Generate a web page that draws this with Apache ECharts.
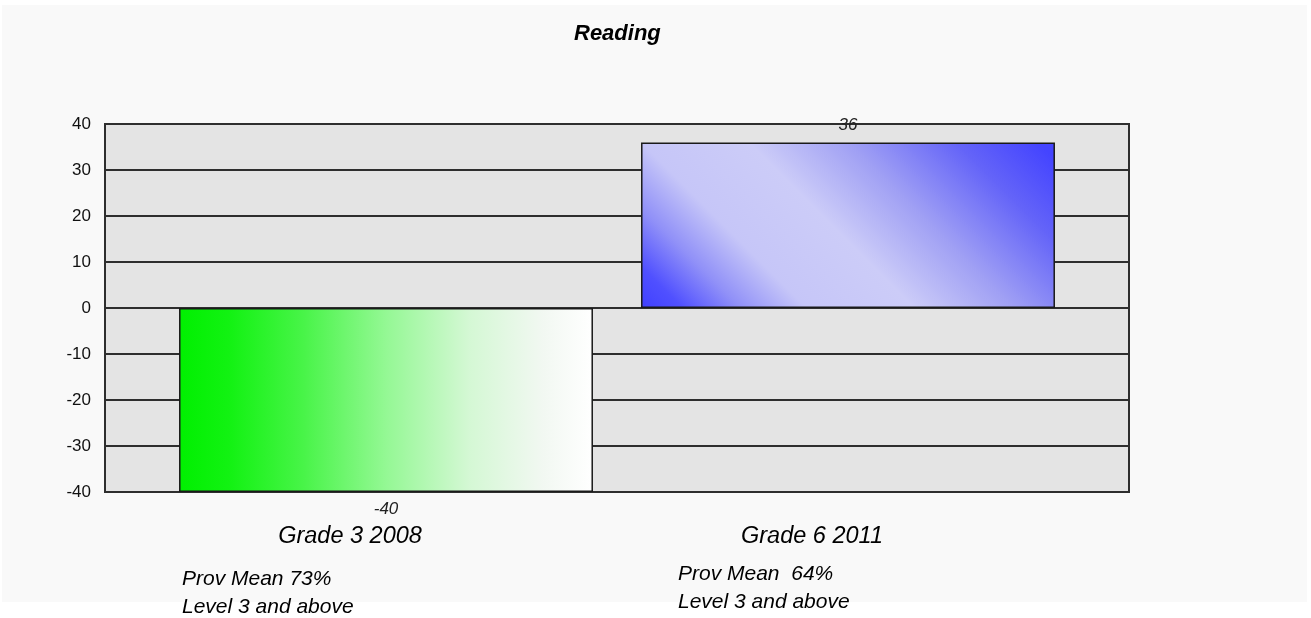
<!DOCTYPE html>
<html>
<head>
<meta charset="utf-8">
<script src="https://cdn.jsdelivr.net/npm/echarts@6/dist/echarts.min.js"></script>
<style>
html,body{margin:0;padding:0;background:#ffffff;}
#chart{width:1311px;height:618px;}
</style>
</head>
<body>
<div id="chart"></div>
<script>
// ---- data ----
var titleText = 'Reading';
var categories = ['Grade 3 2008', 'Grade 6 2011'];
var values = [-40, 36];
var yMin = -40, yMax = 40, yInterval = 10;
var noteLine1 = ['Prov Mean 73%', 'Prov Mean  64%'];
var noteLine2 = ['Level 3 and above', 'Level 3 and above'];

// ---- styles ----
var FONT = "'Liberation Sans', Arial, sans-serif";
var greenGrad = new echarts.graphic.LinearGradient(0, 0, 1, 0, [
  {offset: 0, color: '#00f000'},
  {offset: 0.12, color: '#12f212'},
  {offset: 0.3, color: '#48f448'},
  {offset: 0.5, color: '#94f894'},
  {offset: 0.7, color: '#d4f8d4'},
  {offset: 0.88, color: '#f2f8f2'},
  {offset: 1, color: '#ffffff'}
]);
var blueGrad = new echarts.graphic.LinearGradient(0, 1, 1, -1.5, [
  {offset: 0, color: '#4040ff'},
  {offset: 0.05, color: '#5050ff'},
  {offset: 0.12, color: '#9090f8'},
  {offset: 0.2, color: '#c6c6f8'},
  {offset: 0.33, color: '#ccccf8'},
  {offset: 0.45, color: '#a0a0f4'},
  {offset: 0.58, color: '#6464f8'},
  {offset: 0.68, color: '#4444ff'},
  {offset: 1, color: '#4040ff'}
]);
var barColors = [greenGrad, blueGrad];
var labelPos = ['bottom', 'top'];

var chart = echarts.init(document.getElementById('chart'), null, {renderer: 'canvas'});

var barData = values.map(function (v, i) {
  return {
    value: v,
    itemStyle: {color: barColors[i], borderColor: '#1a1a1a', borderWidth: 1.5},
    label: {position: labelPos[i]}
  };
});

var notePos = [[182, 579, 607], [678, 574, 602]];
var graphics = [{
  type: 'rect', z: -10, silent: true,
  shape: {x: 2, y: 5, width: 1305, height: 597},
  style: {fill: '#f9f9f9'}
}];
noteLine1.forEach(function (t, i) {
  graphics.push({type: 'text', x: notePos[i][0], y: notePos[i][1],
    style: {text: t, font: 'italic 21px ' + FONT, fill: '#000', textVerticalAlign: 'middle'}});
  graphics.push({type: 'text', x: notePos[i][0], y: notePos[i][2],
    style: {text: noteLine2[i], font: 'italic 21px ' + FONT, fill: '#000', textVerticalAlign: 'middle'}});
});

chart.setOption({
  animation: false,
  backgroundColor: '#ffffff',
  title: {
    text: titleText, left: 574, top: 23, padding: 0,
    textStyle: {fontFamily: FONT, fontSize: 22, fontWeight: 'bold', fontStyle: 'italic', color: '#000'}
  },
  graphic: graphics,
  grid: [
    {left: 105, right: 182, top: 124, bottom: 126, show: true,
     backgroundColor: '#e4e4e4', borderColor: '#2e2e2e', borderWidth: 2},
    {left: 155, right: 232, top: 124, bottom: 126, show: false}
  ],
  xAxis: [
    {type: 'category', gridIndex: 0, data: categories, show: false},
    {type: 'category', gridIndex: 1, data: categories,
     axisLine: {show: false}, axisTick: {show: false}, splitLine: {show: false},
     axisLabel: {fontFamily: FONT, fontSize: 23.5, fontStyle: 'italic', color: '#000',
                 margin: 33, padding: [0, 72, 0, 0]}}
  ],
  yAxis: [
    {type: 'value', gridIndex: 0, min: yMin, max: yMax, interval: yInterval,
     axisLine: {show: false}, axisTick: {show: false},
     axisLabel: {fontFamily: FONT, fontSize: 17, color: '#111', margin: 14},
     splitLine: {show: true, lineStyle: {color: '#2e2e2e', width: 2}}},
    {type: 'value', gridIndex: 1, min: yMin, max: yMax, interval: yInterval, show: false,
     splitLine: {show: false}}
  ],
  series: [{
    type: 'bar', xAxisIndex: 1, yAxisIndex: 1,
    barCategoryGap: '10.4%',
    data: barData,
    label: {show: true, distance: 9, fontFamily: FONT, fontSize: 17, fontStyle: 'italic', color: '#222'}
  }]
});
</script>
</body>
</html>
